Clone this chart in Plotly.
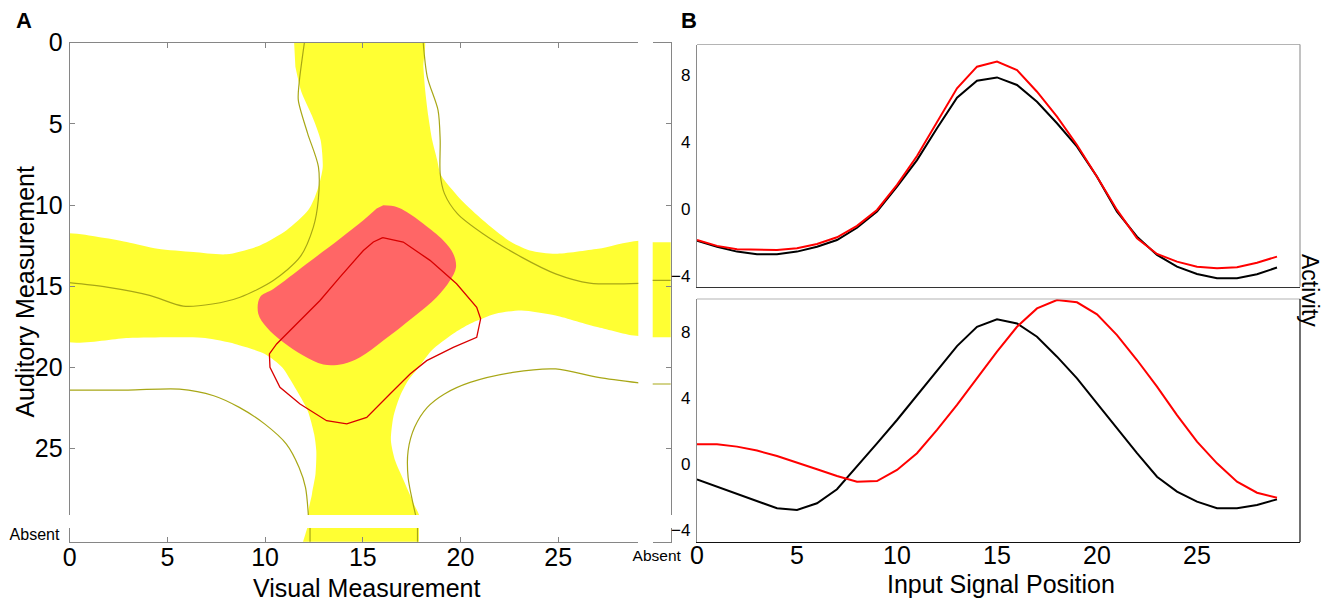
import plotly.graph_objects as go

W, H = 1324, 603

# ---------------- Panel B: activity profiles ----------------
positions = list(range(30))
upper_black = [-1.87, -2.23, -2.52, -2.68, -2.68, -2.52, -2.23, -1.83, -1.10, -0.14,
               1.35, 2.93, 4.82, 6.64, 7.65, 7.85, 7.40, 6.40, 5.12, 3.73,
               1.94, -0.14, -1.63, -2.72, -3.42, -3.85, -4.10, -4.10, -3.87, -3.47]
upper_red = [-1.83, -2.18, -2.38, -2.42, -2.42, -2.32, -2.07, -1.67, -0.99, -0.04,
             1.45, 3.17, 5.15, 7.20, 8.49, 8.79, 8.29, 7.00, 5.51, 3.83,
             1.94, -0.04, -1.73, -2.66, -3.12, -3.42, -3.51, -3.45, -3.18, -2.82]
lower_black = [-0.93, -1.37, -1.81, -2.28, -2.68, -2.78, -2.38, -1.53, -0.16, 1.25,
               2.66, 4.17, 5.68, 7.13, 8.30, 8.75, 8.50, 7.70, 6.49, 5.18,
               3.67, 2.16, 0.65, -0.77, -1.67, -2.28, -2.68, -2.68, -2.48, -2.14]
lower_red = [1.19, 1.19, 1.05, 0.81, 0.48, 0.10, -0.32, -0.73, -1.07, -1.03,
             -0.36, 0.65, 2.06, 3.57, 5.18, 6.79, 8.30, 9.41, 9.92, 9.78,
             9.05, 7.80, 6.29, 4.68, 2.96, 1.35, 0.04, -1.07, -1.74, -2.04]
activity_ticks = [-4, 0, 4, 8]
position_ticks = [0, 5, 10, 15, 20, 25]

# ---------------- Panel A: visual x auditory map ----------------
measure_ticks = [0, 5, 10, 15, 20, 25]

# region above threshold (cross-shaped band)
band_x = [11.46, 18.07, 18.10, 18.20, 18.35, 18.55, 18.80, 18.96, 19.18, 20.05, 21.15,
          22.46, 23.55, 24.87, 27.05, 29.60, 29.60, 27.05, 24.87, 23.12, 21.80, 20.49,
          19.62, 18.52, 17.87, 17.32, 16.88, 16.56, 16.44, 16.66, 17.10, 17.54, 17.95,
          12.25, 12.40, 12.58, 12.62, 12.51, 12.18, 11.52, 10.87, 9.99, 8.46, 6.93,
          5.18, 2.99, -0.50, -0.50, 1.46, 2.92, 4.50, 6.33, 8.03, 9.74, 11.10, 12.20,
          12.55, 12.80, 12.95, 12.84, 12.40, 11.85, 11.55]
band_y = [-0.60, -0.60, 1.50, 3.00, 4.50, 6.00, 7.20, 8.06, 8.48, 9.71, 10.94,
          12.18, 12.80, 13.00, 12.69, 12.30, 17.97, 17.53, 16.81, 16.50, 16.70, 17.32,
          17.94, 18.97, 20.00, 20.82, 21.85, 23.09, 24.52, 25.76, 26.99, 28.23, 29.60,
          29.60, 27.81, 26.58, 25.14, 24.11, 22.67, 21.23, 20.00, 19.18, 18.56, 18.20,
          18.15, 18.19, 18.26, 11.88, 11.97, 12.28, 12.70, 12.90, 13.04, 12.49, 11.56, 10.33,
          9.50, 8.60, 7.65, 6.00, 4.50, 3.00, 1.48]

# peak region
peak_x = [16.05, 16.73, 17.25, 18.10, 19.12, 19.63, 19.77, 19.46, 18.78, 17.58, 16.05,
          14.86, 14.00, 12.98, 11.95, 10.93, 10.08, 9.65, 9.74, 10.42, 12.13, 13.83,
          15.03, 15.71]
peak_y = [10.02, 10.12, 10.43, 11.15, 12.18, 13.00, 13.83, 14.65, 15.68, 16.91, 18.35,
          19.38, 19.79, 19.83, 19.28, 18.46, 17.53, 16.70, 15.68, 15.18, 13.62, 12.08,
          10.94, 10.22]

# red contour
contour_x = [16.02, 17.07, 18.44, 19.80, 20.83, 21.03, 20.83, 19.63, 18.27, 17.42, 16.39,
             15.20, 14.18, 13.15, 11.79, 10.76, 10.25, 10.22, 10.59, 11.62, 12.81, 13.83,
             15.03, 15.54, 16.02]
contour_y = [12.01, 12.28, 13.41, 14.85, 16.30, 17.01, 18.15, 18.77, 19.59, 20.41, 21.64,
             23.09, 23.49, 23.29, 22.26, 21.23, 20.00, 19.17, 18.56, 17.32, 15.88, 14.44,
             12.80, 12.28, 12.01]

# olive iso-lines, one per quadrant
iso_ul_x = [-0.5, 1.90, 4.09, 5.81, 7.30, 8.72, 10.42, 11.79, 12.47, 12.72, 12.73, 12.18, 11.70, 11.74, 12.07]
iso_ul_y = [14.73, 15.06, 15.57, 16.23, 16.10, 15.68, 14.65, 13.20, 11.36, 9.71, 7.65, 5.60, 3.54, 2.51, -0.5]
iso_ur_x = [18.06, 18.30, 18.85, 18.96, 18.96, 19.18, 19.84, 21.15, 23.12, 24.87, 26.61, 29.60]
iso_ur_y = [-0.5, 2.10, 4.15, 6.00, 8.06, 9.30, 10.53, 11.77, 13.21, 14.24, 14.81, 14.81]
iso_ll_x = [-0.5, 2.99, 5.62, 7.37, 8.68, 9.99, 11.09, 11.74, 12.07, 12.24]
iso_ll_y = [21.40, 21.40, 21.34, 21.75, 22.47, 23.50, 24.73, 26.17, 27.41, 29.60]
iso_lr_x = [29.60, 27.05, 24.87, 22.68, 20.49, 19.18, 18.30, 17.65, 17.32, 17.32, 17.54, 17.80]
iso_lr_y = [21.03, 20.62, 20.10, 20.31, 20.93, 21.64, 22.47, 23.70, 25.14, 26.79, 28.23, 29.60]

# "Absent" visual input column and "Absent" auditory input row
absent_col_band = [12.30, 18.15]
absent_col_iso = [14.65, 21.03]
absent_row_band_left = [12.20, 11.90]
absent_row_band_right = 17.87
absent_row_iso = [12.30, 17.80]

YELLOW = "#FFFF33"
SALMON = "#FF6666"
OLIVE = "#A8A716"
CONTOUR_RED = "#D90000"
AX = "#868686"
FONT = "Liberation Sans, Arial, sans-serif"


def fx(p):
    return p / W


def fy(p):
    return 1 - p / H


fig = go.Figure()

# --- panel A main map ---
fig.add_trace(go.Scatter(x=band_x, y=band_y, mode="lines", fill="toself", fillcolor=YELLOW,
                         line=dict(width=0, shape="spline", smoothing=0.7), xaxis="x", yaxis="y"))
fig.add_trace(go.Scatter(x=peak_x, y=peak_y, mode="lines", fill="toself", fillcolor=SALMON,
                         line=dict(width=0, shape="spline", smoothing=1.0), xaxis="x", yaxis="y"))
for ix, iy in [(iso_ul_x, iso_ul_y), (iso_ur_x, iso_ur_y), (iso_ll_x, iso_ll_y), (iso_lr_x, iso_lr_y)]:
    fig.add_trace(go.Scatter(x=ix, y=iy, mode="lines",
                             line=dict(color=OLIVE, width=1.2, shape="spline", smoothing=0.8),
                             xaxis="x", yaxis="y"))
fig.add_trace(go.Scatter(x=contour_x, y=contour_y, mode="lines",
                         line=dict(color=CONTOUR_RED, width=1.3), xaxis="x", yaxis="y"))

# --- absent visual column ---
fig.add_trace(go.Scatter(x=[-0.2, 1.2, 1.2, -0.2],
                         y=[absent_col_band[0], absent_col_band[0], absent_col_band[1], absent_col_band[1]],
                         mode="lines", fill="toself", fillcolor=YELLOW, line=dict(width=0),
                         xaxis="x2", yaxis="y2"))
for yv in absent_col_iso:
    fig.add_trace(go.Scatter(x=[-0.2, 1.2], y=[yv, yv], mode="lines",
                             line=dict(color=OLIVE, width=1.2), xaxis="x2", yaxis="y2"))

# --- absent auditory row ---
fig.add_trace(go.Scatter(x=[absent_row_band_left[0], absent_row_band_right,
                            absent_row_band_right, absent_row_band_left[1]],
                         y=[-0.2, -0.2, 1.2, 1.2], mode="lines", fill="toself", fillcolor=YELLOW,
                         line=dict(width=0), xaxis="x3", yaxis="y3"))
for xv in absent_row_iso:
    fig.add_trace(go.Scatter(x=[xv, xv], y=[-0.2, 1.2], mode="lines",
                             line=dict(color=OLIVE, width=1.2), xaxis="x3", yaxis="y3"))

# corner cell (both absent) is empty
fig.add_trace(go.Scatter(x=[], y=[], xaxis="x4", yaxis="y4"))

# --- panel B ---
fig.add_trace(go.Scatter(x=positions, y=upper_black, mode="lines",
                         line=dict(color="black", width=2), xaxis="x5", yaxis="y5"))
fig.add_trace(go.Scatter(x=positions, y=upper_red, mode="lines",
                         line=dict(color="#FF0000", width=2), xaxis="x5", yaxis="y5"))
fig.add_trace(go.Scatter(x=positions, y=lower_black, mode="lines",
                         line=dict(color="black", width=2), xaxis="x6", yaxis="y6"))
fig.add_trace(go.Scatter(x=positions, y=lower_red, mode="lines",
                         line=dict(color="#FF0000", width=2), xaxis="x6", yaxis="y6"))

common = dict(showgrid=False, zeroline=False, fixedrange=True)
tickA = dict(ticks="inside", ticklen=5, tickcolor=AX, tickwidth=1)

main_x = [fx(69.7), fx(638.3)]
main_y = [fy(515.0), fy(42.7)]
col_x = [fx(652.7), fx(670.7)]
row_y = [fy(541.7), fy(528.0)]
rangeA = [0, 29.1]

fig.update_layout(
    width=W, height=H, autosize=False,
    margin=dict(l=0, r=0, t=0, b=0),
    paper_bgcolor="white", plot_bgcolor="white",
    showlegend=False, template="none",
    font=dict(family=FONT, color="black"),
    # panel A main
    xaxis=dict(domain=main_x, range=rangeA, anchor="y", side="top", showline=True,
               linecolor=AX, linewidth=1.2, tickvals=measure_ticks, showticklabels=False,
               **tickA, **common),
    yaxis=dict(domain=main_y, range=rangeA[::-1], anchor="x", side="left", showline=True,
               linecolor=AX, linewidth=1.2, tickvals=measure_ticks, tickfont=dict(size=25),
               ticklabelstandoff=1, **tickA, **common),
    # absent column
    xaxis2=dict(domain=col_x, range=[0, 1], anchor="y2", side="top", showline=True,
                linecolor=AX, linewidth=1.2, showticklabels=False, ticks="", **common),
    yaxis2=dict(domain=main_y, range=rangeA[::-1], anchor="x2", side="right", showline=True,
                linecolor=AX, linewidth=1.2, tickvals=measure_ticks, showticklabels=False,
                **tickA, **common),
    # absent row
    xaxis3=dict(domain=main_x, range=rangeA, anchor="y3", side="bottom", showline=True,
                linecolor=AX, linewidth=1.2, tickvals=measure_ticks, tickfont=dict(size=25),
                ticklabelstandoff=-7, **tickA, **common),
    yaxis3=dict(domain=row_y, range=[1, 0], anchor="x3", side="left", showline=True,
                linecolor=AX, linewidth=1.2, tickvals=[0.5], ticktext=["Absent"], ticks="",
                tickfont=dict(size=16), ticklabelstandoff=6, **common),
    # corner
    xaxis4=dict(domain=col_x, range=[0, 1], anchor="y4", side="bottom", showline=True,
                linecolor=AX, linewidth=1.2, tickvals=[0.5], ticktext=["Absent"], ticks="",
                tickfont=dict(size=15.5), ticklabelstandoff=0, ticklabelshift=-5, **common),
    yaxis4=dict(domain=row_y, range=[1, 0], anchor="x4", side="right", showline=True,
                linecolor=AX, linewidth=1.2, showticklabels=False, ticks="", **common),
    # panel B upper
    xaxis5=dict(domain=[fx(697), fx(1300)], range=[0, 30.15], anchor="y5", showline=True,
                linecolor="#333333", linewidth=1.2, showticklabels=False, ticks="", **common),
    yaxis5=dict(domain=[fy(286.7), fy(44.5)], range=[-4.61, 9.81], anchor="x5", showline=True,
                linecolor="#8a8a8a", linewidth=1.2, tickvals=activity_ticks, ticks="",
                tickfont=dict(size=17), ticklabelstandoff=2, **common),
    # panel B lower
    xaxis6=dict(domain=[fx(697), fx(1300)], range=[0, 30.15], anchor="y6", showline=True,
                linecolor="#111111", linewidth=1.2, tickvals=position_ticks, ticks="",
                tickfont=dict(size=25), ticklabelstandoff=-9, **common),
    yaxis6=dict(domain=[fy(542), fy(299)], range=[-4.72, 9.98], anchor="x6", showline=True,
                linecolor="#8a8a8a", linewidth=1.2, tickvals=activity_ticks, ticks="",
                tickfont=dict(size=17), ticklabelstandoff=2, **common),
)

# remaining frame edges of the two activity panels
frame = [
    ("x5", "y5", 0, 1, 1, 1, "#b4b4b4"),
    ("x5", "y5", 1, 1, 0, 1, "#999999"),
    ("x6", "y6", 0, 1, 1, 1, "#b4b4b4"),
    ("x6", "y6", 1, 1, 0, 1, "#111111"),
]
for xa, ya, x0, x1, y0, y1, c in frame:
    fig.add_shape(type="line", xref=f"{xa} domain", yref=f"{ya} domain",
                  x0=x0, x1=x1, y0=y0, y1=y1, line=dict(color=c, width=1.2))

labels = [
    ("A", 23.5, 21, 22, 0, True),
    ("B", 689, 21, 22, 0, True),
    ("Visual Measurement", 366.5, 588, 25, 0, False),
    ("Auditory Measurement", 24.6, 292, 25, -90, False),
    ("Input Signal Position", 1001, 584, 25, 0, False),
    ("Activity", 1310, 290, 23, 90, False),
]
for text, x, y, size, angle, bold in labels:
    fig.add_annotation(text=f"<b>{text}</b>" if bold else text, x=fx(x), y=fy(y),
                       xref="paper", yref="paper", xanchor="center", yanchor="middle",
                       showarrow=False, textangle=angle,
                       font=dict(size=size, family=FONT, color="black"))

fig.write_html("out.html")
